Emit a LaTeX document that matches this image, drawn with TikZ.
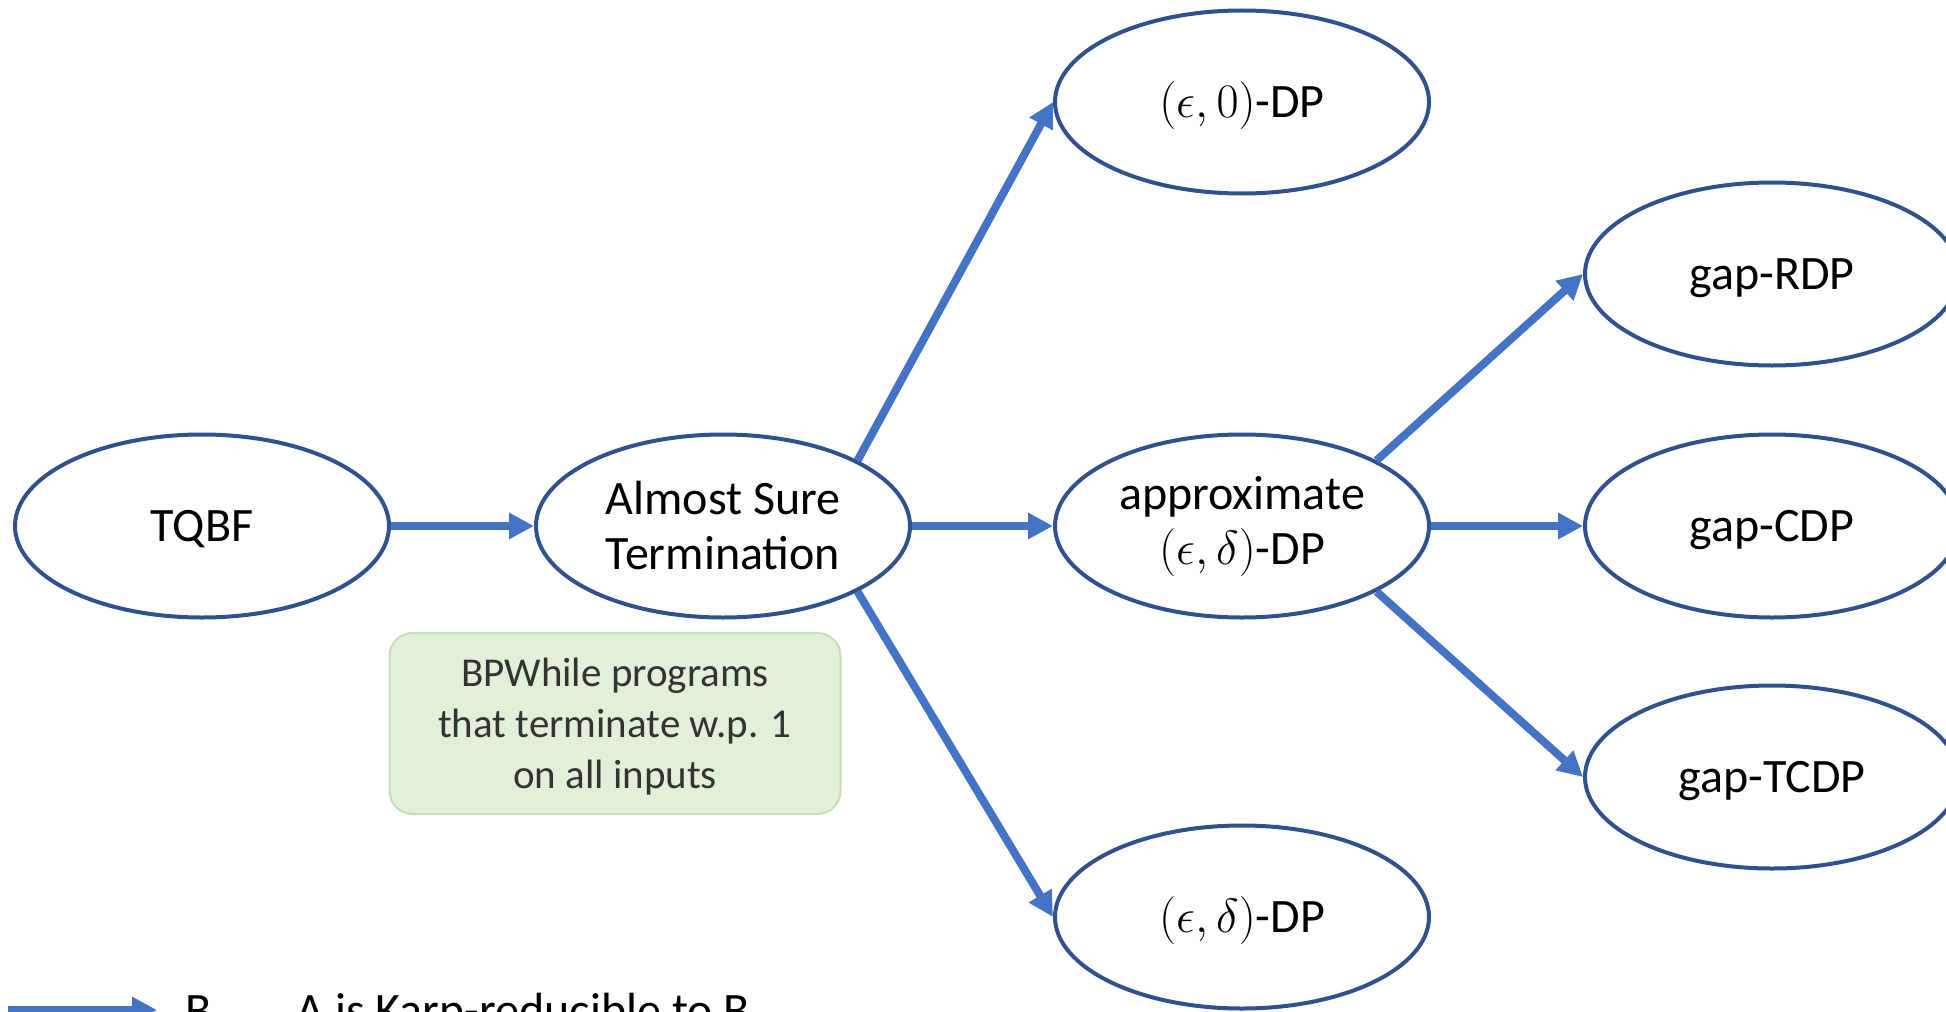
\RequirePackage{fix-cm}
\documentclass[tikz,border=0pt]{standalone}
\usepackage[no-math]{fontspec}
\setmainfont{Carlito}
\usetikzlibrary{shapes.geometric,arrows.meta}
\definecolor{arrowblue}{HTML}{4472C4}
\definecolor{rimblue}{HTML}{2F528F}
\definecolor{notefill}{HTML}{E2F0D9}
\definecolor{noteedge}{HTML}{C5E0B4}
\begin{document}
\begin{tikzpicture}[x=0.5pt,y=-0.5pt,
  problem/.style={ellipse, draw=rimblue, line width=2pt, fill=white,
    minimum width=187pt, minimum height=91.5pt, inner sep=0pt,
    align=center, font=\fontsize{24}{27.5}\selectfont},
  oneline/.style={text height=15.5pt, text depth=0pt},
  reduce/.style={draw=arrowblue, line width=4pt,
    -{Triangle[length=12.5pt,width=12.5pt]}},
  remark/.style={draw=noteedge, line width=1pt, fill=notefill,
    rounded corners=11.5pt, minimum width=225.5pt, minimum height=90.5pt,
    inner sep=0pt, align=center, text=black!80,
    font=\fontsize{20.5}{25.5}\selectfont},
  legendtext/.style={anchor=base west, inner sep=0pt,
    font=\fontsize{24}{27.5}\selectfont}]
\useasboundingbox (0,0) rectangle (1946,1011);
\clip (0,0) rectangle (1946,1011);

% problems
\node[problem,oneline] (tqbf) at (202,526) {TQBF};
\node[problem] (ast)  at (723,526) {Almost Sure\\Termination};
\node[problem,oneline] (dpz)  at (1242,102) {$(\epsilon,0)$-DP};
\node[problem] (apx)  at (1242,526) {approximate\\$(\epsilon,\delta)$-DP};
\node[problem,oneline] (dpd)  at (1242,917) {$(\epsilon,\delta)$-DP};
\node[problem,oneline] (rdp)  at (1772,274) {gap-RDP};
\node[problem,oneline] (cdp)  at (1772,526) {gap-CDP};
\node[problem,oneline] (tcdp) at (1772,777) {gap-TCDP};

% note on the termination problem
\node[remark, text depth=0pt] (bpw) at (615,723.5) {BPWhile programs\\that terminate w.p. 1\\on all inputs};

% reductions
\draw[reduce] (tqbf) -- (ast);
\draw[reduce] (ast.26.6) -- (dpz.west);
\draw[reduce] (ast) -- (apx);
\draw[reduce] (ast.-26.6) -- (dpd.west);
\draw[reduce] (apx.26.6) -- (rdp.west);
\draw[reduce] (apx) -- (cdp);
\draw[reduce] (apx.-26.6) -- (tcdp.west);

% legend
\coordinate (la) at (8,1010);
\coordinate (lb) at (157,1010);
\draw[reduce] (la) -- (lb);
\node[legendtext] (lbB) at (185,1026) {B};
\node[legendtext] (lbtext) at (296,1026) {A is Karp-reducible to B};
\end{tikzpicture}
\end{document}
